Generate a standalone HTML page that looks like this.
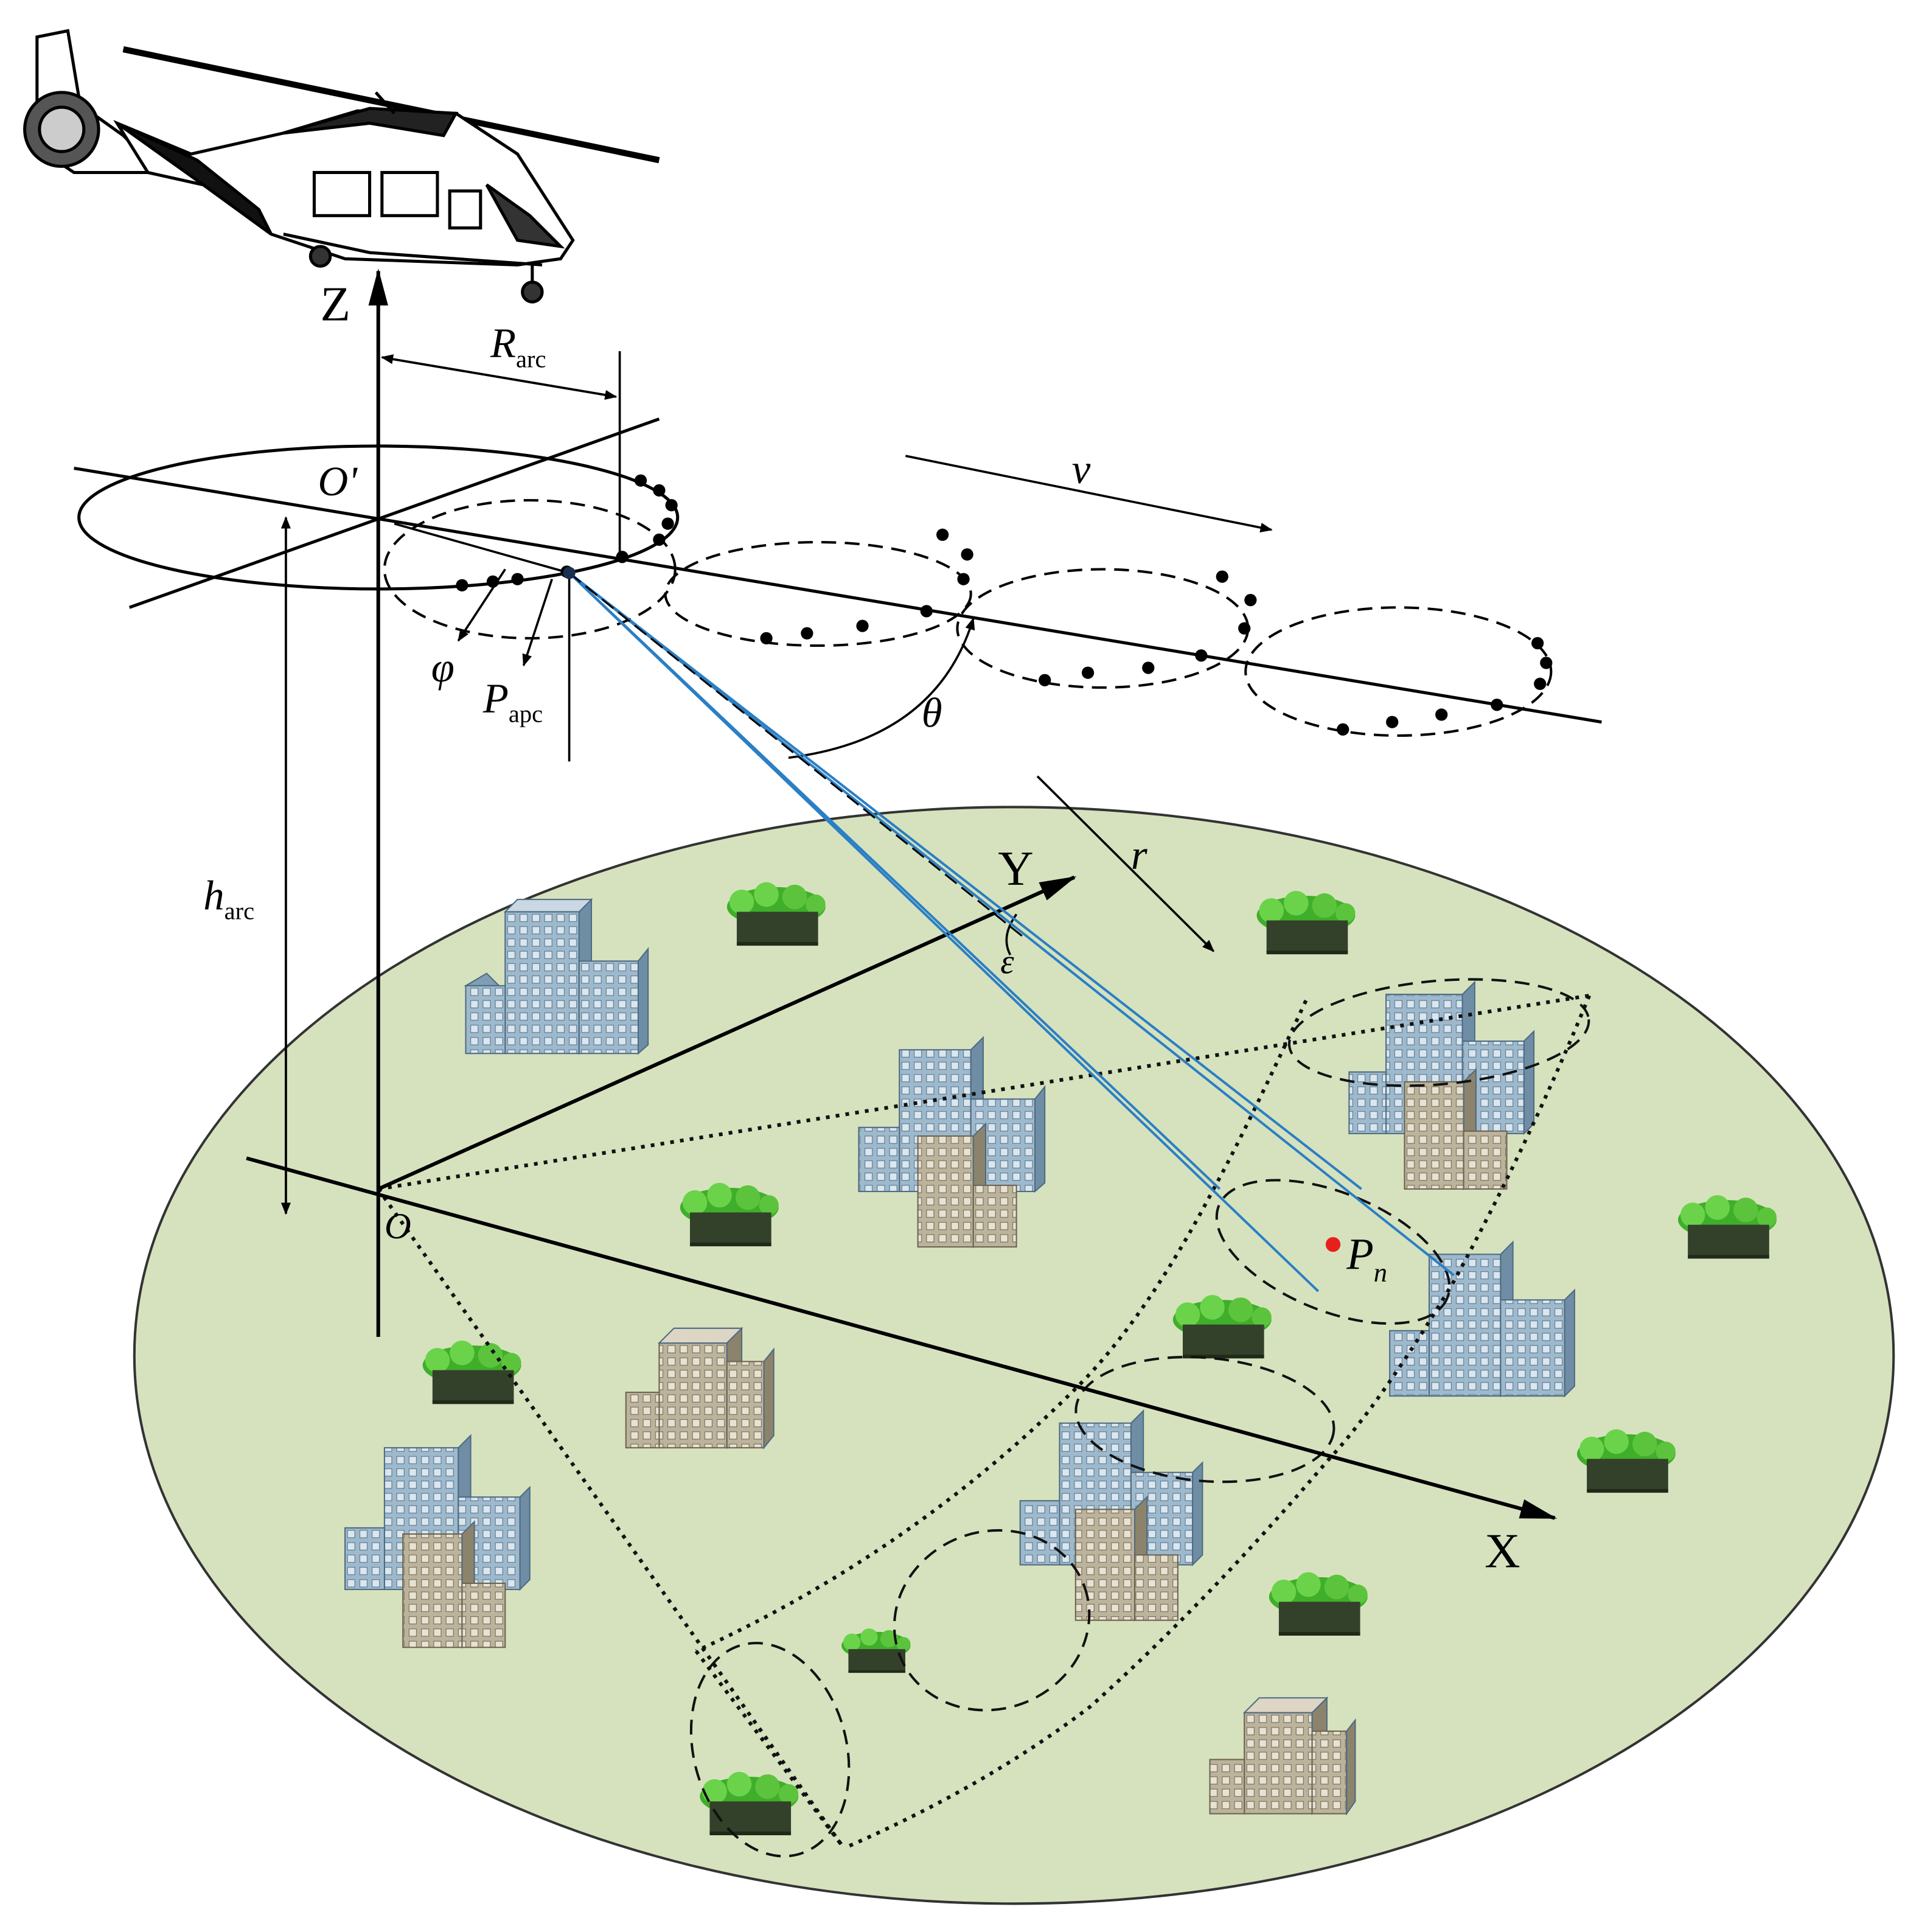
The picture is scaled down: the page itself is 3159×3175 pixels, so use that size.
<!DOCTYPE html>
<html><head><meta charset="utf-8"><style>html,body{margin:0;padding:0;background:#fff}svg{display:block}</style></head><body>
<svg width="3159" height="3175" viewBox="0 0 1560 1568" xmlns="http://www.w3.org/2000/svg" font-family="Liberation Serif, serif">
<defs>
<marker id="ar" markerWidth="10" markerHeight="10" refX="9" refY="5" orient="auto" markerUnits="userSpaceOnUse"><path d="M0,1 L10,5 L0,9 z" fill="#000"/></marker>
<marker id="big" markerWidth="30" markerHeight="20" refX="28" refY="10" orient="auto" markerUnits="userSpaceOnUse"><path d="M0,2 L30,10 L0,18 z" fill="#000"/></marker>
<pattern id="wb" width="10" height="10" patternUnits="userSpaceOnUse"><rect width="10" height="10" fill="#9fb9cc"/><rect x="2" y="2" width="6" height="6" fill="#dbe6ee" stroke="#5d7d95" stroke-width="0.6"/></pattern>
<pattern id="wg" width="10" height="10" patternUnits="userSpaceOnUse"><rect width="10" height="10" fill="#bcb39c"/><rect x="2" y="2" width="6" height="6" fill="#e8e2d2" stroke="#7b725e" stroke-width="0.6"/></pattern>
<g id="tree"><ellipse cx="40" cy="18" rx="40" ry="16" fill="#3fae2a"/><circle cx="12" cy="14" r="10" fill="#6bd34a"/><circle cx="32" cy="8" r="10" fill="#6bd34a"/><circle cx="55" cy="10" r="10" fill="#5cc43c"/><circle cx="72" cy="16" r="8" fill="#5cc43c"/><rect x="8" y="22" width="66" height="26" fill="#33402a"/><path d="M8,48 L74,48" stroke="#1f2a18" stroke-width="3"/></g>
<g id="bb"><rect x="0" y="0" width="100" height="100" fill="url(#wb)" stroke="#4d6a80"/></g>
</defs>

<!-- ground -->
<ellipse cx="823" cy="1100" rx="714" ry="445" fill="#d6e2be" stroke="#333" stroke-width="2"/>

<!-- buildings helper: blue -->
<g stroke="#4d6a80" stroke-width="1">
<polygon points="378,800 395,790 405,800" fill="#7f9db3"/>
<rect x="410" y="740" width="60" height="115" fill="url(#wb)"/><polygon points="470,740 480,730 480,845 470,855" fill="#6f8ea5"/><polygon points="410,740 420,730 480,730 470,740" fill="#c9d8e3"/>
<rect x="470" y="780" width="48" height="75" fill="url(#wb)"/><polygon points="518,780 526,770 526,848 518,855" fill="#6f8ea5"/>
<rect x="378" y="800" width="32" height="55" fill="url(#wb)"/>

<rect x="730" y="852" width="58" height="115" fill="url(#wb)"/><polygon points="788,852 798,842 798,960 788,967" fill="#6f8ea5"/>
<rect x="788" y="892" width="52" height="75" fill="url(#wb)"/><polygon points="840,892 848,882 848,960 840,967" fill="#6f8ea5"/>
<rect x="697" y="915" width="33" height="52" fill="url(#wb)"/>
<rect x="745" y="922" width="45" height="90" fill="url(#wg)" stroke="#6b624f"/><polygon points="790,922 800,912 800,1005 790,1012" fill="#8c836c"/>
<rect x="790" y="962" width="35" height="50" fill="url(#wg)" stroke="#6b624f"/>

<rect x="1125" y="807" width="62" height="113" fill="url(#wb)"/><polygon points="1187,807 1197,797 1197,912 1187,920" fill="#6f8ea5"/>
<rect x="1187" y="845" width="50" height="75" fill="url(#wb)"/><polygon points="1237,845 1245,837 1245,912 1237,920" fill="#6f8ea5"/>
<rect x="1095" y="870" width="30" height="50" fill="url(#wb)"/>
<rect x="1140" y="878" width="48" height="87" fill="url(#wg)" stroke="#6b624f"/><polygon points="1188,878 1198,868 1198,958 1188,965" fill="#8c836c"/>
<rect x="1188" y="918" width="35" height="47" fill="url(#wg)" stroke="#6b624f"/>

<rect x="1160" y="1018" width="58" height="115" fill="url(#wb)"/><polygon points="1218,1018 1228,1008 1228,1125 1218,1133" fill="#6f8ea5"/>
<rect x="1218" y="1055" width="52" height="78" fill="url(#wb)"/><polygon points="1270,1055 1278,1047 1278,1125 1270,1133" fill="#6f8ea5"/>
<rect x="1128" y="1080" width="32" height="53" fill="url(#wb)"/>

<rect x="860" y="1155" width="58" height="115" fill="url(#wb)"/><polygon points="918,1155 928,1145 928,1262 918,1270" fill="#6f8ea5"/>
<rect x="918" y="1195" width="50" height="75" fill="url(#wb)"/><polygon points="968,1195 976,1187 976,1262 968,1270" fill="#6f8ea5"/>
<rect x="828" y="1218" width="32" height="52" fill="url(#wb)"/>
<rect x="873" y="1225" width="48" height="90" fill="url(#wg)" stroke="#6b624f"/><polygon points="921,1225 931,1215 931,1308 921,1315" fill="#8c836c"/>
<rect x="921" y="1262" width="35" height="53" fill="url(#wg)" stroke="#6b624f"/>

<rect x="312" y="1175" width="60" height="115" fill="url(#wb)"/><polygon points="372,1175 382,1165 382,1282 372,1290" fill="#6f8ea5"/>
<rect x="372" y="1215" width="50" height="75" fill="url(#wb)"/><polygon points="422,1215 430,1207 430,1282 422,1290" fill="#6f8ea5"/>
<rect x="280" y="1240" width="32" height="50" fill="url(#wb)"/>
<rect x="327" y="1245" width="48" height="92" fill="url(#wg)" stroke="#6b624f"/><polygon points="375,1245 385,1235 385,1330 375,1337" fill="#8c836c"/>
<rect x="375" y="1285" width="35" height="52" fill="url(#wg)" stroke="#6b624f"/>

<rect x="535" y="1090" width="55" height="85" fill="url(#wg)" stroke="#6b624f"/><polygon points="590,1090 602,1078 602,1165 590,1175" fill="#8c836c"/><polygon points="535,1090 547,1078 602,1078 590,1090" fill="#ddd6c4"/>
<rect x="590" y="1105" width="30" height="70" fill="url(#wg)" stroke="#6b624f"/><polygon points="620,1105 628,1095 628,1165 620,1175" fill="#8c836c"/>
<rect x="508" y="1130" width="27" height="45" fill="url(#wg)" stroke="#6b624f"/>

<rect x="1010" y="1390" width="55" height="82" fill="url(#wg)" stroke="#6b624f"/><polygon points="1065,1390 1077,1378 1077,1462 1065,1472" fill="#8c836c"/><polygon points="1010,1390 1022,1378 1077,1378 1065,1390" fill="#ddd6c4"/>
<rect x="1065" y="1405" width="28" height="67" fill="url(#wg)" stroke="#6b624f"/><polygon points="1093,1405 1100,1396 1100,1462 1093,1472" fill="#8c836c"/>
<rect x="982" y="1428" width="28" height="44" fill="url(#wg)" stroke="#6b624f"/>
</g>

<!-- trees -->
<use href="#tree" x="590" y="718"/><use href="#tree" x="1020" y="725"/><use href="#tree" x="552" y="962"/>
<use href="#tree" x="1362" y="972"/><use href="#tree" x="952" y="1053"/><use href="#tree" x="343" y="1090"/>
<use href="#tree" x="1280" y="1162"/><use href="#tree" x="1030" y="1278"/><use href="#tree" x="683" y="1323" transform="translate(683,1323) scale(0.7) translate(-683,-1323)"/>
<use href="#tree" x="568" y="1440"/>

<!-- cone dotted -->
<g fill="none" stroke="#111" stroke-width="3" stroke-dasharray="3,5">
<path d="M307,965 L1290,808"/>
<path d="M307,965 L685,1500"/>
<path d="M1060,812 Q1010,920 985,965 Q930,1070 875,1125 Q740,1260 565,1340"/>
<path d="M1290,808 Q1240,930 1180,1040 Q1120,1140 1078,1185 Q980,1300 885,1385 Q800,1450 685,1500"/>
<path d="M565,1340 L685,1500"/>
</g>
<g fill="none" stroke="#111" stroke-width="2" stroke-dasharray="12,7">
<ellipse cx="1168" cy="838" rx="122" ry="42" transform="rotate(-5 1168 838)"/>
<ellipse cx="1082" cy="1016" rx="100" ry="48" transform="rotate(22 1082 1016)"/>
<ellipse cx="978" cy="1152" rx="105" ry="50" transform="rotate(5 978 1152)"/>
<ellipse cx="805" cy="1315" rx="80" ry="72" transform="rotate(-20 805 1315)"/>
<ellipse cx="625" cy="1420" rx="62" ry="88" transform="rotate(-15 625 1420)"/>
</g>

<!-- axes ground -->
<g stroke="#000" stroke-width="3" fill="none">
<line x1="200" y1="940" x2="1262" y2="1232" marker-end="url(#big)"/>
<line x1="307" y1="965" x2="872" y2="712" marker-end="url(#big)"/>
<line x1="307" y1="1085" x2="307" y2="220" marker-end="url(#big)"/>
</g>
<text x="260" y="260" font-size="40">Z</text>
<text x="810" y="718" font-size="40">Y</text>
<text x="1205" y="1272" font-size="40">X</text>
<text x="312" y="1005" font-size="30" font-style="italic">O</text>

<!-- upper geometry -->
<g stroke="#000" fill="none" stroke-width="2.5">
<line x1="60" y1="380" x2="1300" y2="586"/>
<line x1="105" y1="493" x2="535" y2="340"/>
<ellipse cx="307" cy="420" rx="243" ry="58"/>
</g>
<g stroke="#000" fill="none" stroke-width="2" stroke-dasharray="12,7">
<ellipse cx="430" cy="462" rx="118" ry="56"/>
<ellipse cx="664" cy="482" rx="124" ry="42"/>
<ellipse cx="895" cy="510" rx="118" ry="48"/>
<ellipse cx="1135" cy="545" rx="124" ry="52"/>
</g>
<g fill="#000">
<circle cx="520" cy="390" r="5"/><circle cx="535" cy="398" r="5"/><circle cx="545" cy="410" r="5"/><circle cx="542" cy="425" r="5"/><circle cx="535" cy="438" r="5"/><circle cx="505" cy="452" r="5"/><circle cx="460" cy="464" r="5"/><circle cx="420" cy="470" r="5"/><circle cx="400" cy="472" r="5"/><circle cx="375" cy="475" r="5"/>
<circle cx="765" cy="434" r="5"/><circle cx="785" cy="450" r="5"/><circle cx="782" cy="470" r="5"/><circle cx="752" cy="496" r="5"/><circle cx="700" cy="508" r="5"/><circle cx="655" cy="514" r="5"/><circle cx="622" cy="518" r="5"/>
<circle cx="992" cy="468" r="5"/><circle cx="1015" cy="487" r="5"/><circle cx="1010" cy="510" r="5"/><circle cx="975" cy="532" r="5"/><circle cx="932" cy="542" r="5"/><circle cx="883" cy="546" r="5"/><circle cx="848" cy="552" r="5"/>
<circle cx="1248" cy="522" r="5"/><circle cx="1255" cy="538" r="5"/><circle cx="1250" cy="555" r="5"/><circle cx="1215" cy="572" r="5"/><circle cx="1170" cy="580" r="5"/><circle cx="1130" cy="586" r="5"/><circle cx="1090" cy="592" r="5"/>
</g>
<text x="258" y="402" font-size="34" font-style="italic">O'</text>

<!-- dimension lines -->
<g stroke="#000" stroke-width="1.8" fill="none">
<line x1="310" y1="290" x2="500" y2="322" marker-end="url(#ar)" />
<line x1="500" y1="322" x2="310" y2="290" marker-end="url(#ar)" />
<line x1="503" y1="285" x2="503" y2="452"/>
<line x1="735" y1="370" x2="1032" y2="430" marker-end="url(#ar)"/>
<line x1="232" y1="420" x2="232" y2="985" marker-end="url(#ar)"/>
<line x1="232" y1="985" x2="232" y2="420" marker-end="url(#ar)"/>
<line x1="462" y1="465" x2="462" y2="618"/>
<line x1="410" y1="462" x2="372" y2="520" marker-end="url(#ar)"/>
<line x1="448" y1="470" x2="425" y2="540" marker-end="url(#ar)"/>
<line x1="320" y1="425" x2="462" y2="465"/>
<line x1="842" y1="630" x2="985" y2="772" marker-end="url(#ar)"/>
<path d="M640,615 Q760,600 790,502" marker-end="url(#ar)"/>
<path d="M825,742 Q812,760 820,775"/>
</g>
<text x="398" y="290" font-size="34" font-style="italic">R<tspan font-size="20" font-style="normal" dy="8">arc</tspan></text>
<text x="870" y="392" font-size="34" font-style="italic">v</text>
<text x="165" y="738" font-size="34" font-style="italic">h<tspan font-size="20" font-style="normal" dy="8">arc</tspan></text>
<text x="350" y="553" font-size="34" font-style="italic">φ</text>
<text x="392" y="578" font-size="34" font-style="italic">P<tspan font-size="20" font-style="normal" dy="8">apc</tspan></text>
<text x="748" y="590" font-size="34" font-style="italic">θ</text>
<text x="918" y="705" font-size="34" font-style="italic">r</text>
<text x="812" y="790" font-size="28" font-style="italic">ε</text>

<!-- beams -->
<g stroke="#2b7fc4" stroke-width="2" fill="none">
<line x1="462" y1="465" x2="1070" y2="1048"/>
<line x1="462" y1="465" x2="990" y2="965"/>
<line x1="462" y1="465" x2="1105" y2="965"/>
<line x1="462" y1="465" x2="1180" y2="1035"/>
</g>
<line x1="462" y1="465" x2="830" y2="760" stroke="#000" stroke-width="1.5" stroke-dasharray="12,5"/>
<circle cx="462" cy="465" r="5" fill="#1a3050"/>
<circle cx="1082" cy="1010" r="6" fill="#e8201c"/>
<text x="1093" y="1030" font-size="36" font-style="italic">P<tspan font-size="22" dy="10">n</tspan></text>

<!-- helicopter -->
<g stroke="#000" stroke-width="2.5" fill="#fff">
<line x1="100" y1="40" x2="535" y2="130" stroke-width="5"/>
<path d="M30,30 L55,25 L65,85 L100,110 L130,140 L60,140 L30,120 Z"/>
<circle cx="50" cy="105" r="30" fill="#555"/><circle cx="50" cy="105" r="18" fill="#ccc"/>
<path d="M95,100 L155,125 L230,108 L290,90 L370,92 L420,125 L465,195 L455,210 L420,215 L280,210 L220,190 L165,150 L120,140 Z"/>
<path d="M95,100 L160,130 L210,170 L220,190 L165,150 Z" fill="#111"/>
<path d="M230,108 L300,100 L360,110 L370,92 L300,88 Z" fill="#222"/>
<rect x="255" y="140" width="45" height="35" fill="#fff"/><rect x="310" y="140" width="45" height="35"/><rect x="365" y="155" width="25" height="30"/>
<path d="M395,150 L430,175 L455,200 L420,195 Z" fill="#333"/>
<path d="M230,190 L300,205 L440,215" fill="none"/>
<circle cx="260" cy="208" r="8" fill="#333"/><circle cx="432" cy="237" r="8" fill="#333"/>
<line x1="432" y1="215" x2="432" y2="230"/>
<line x1="305" y1="75" x2="320" y2="92"/>
</g>
</svg>
</body></html>
